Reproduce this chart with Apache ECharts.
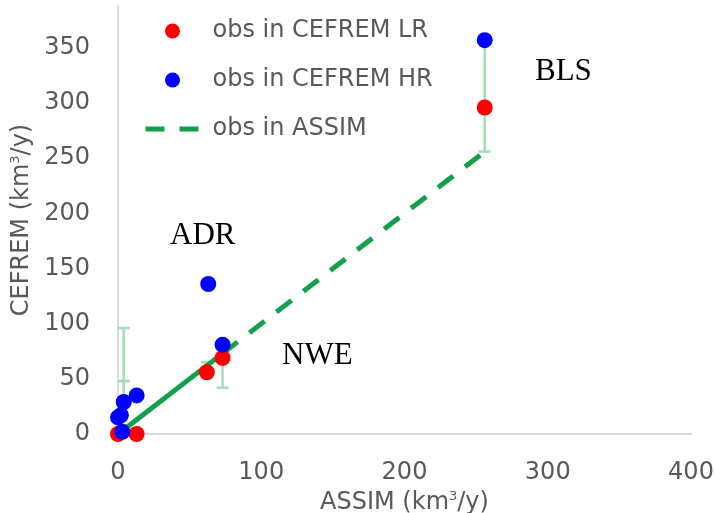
<!DOCTYPE html>
<html>
<head>
<meta charset="utf-8">
<script src="https://cdn.jsdelivr.net/npm/echarts@6/dist/echarts.min.js"></script>
<style>html,body{margin:0;padding:0;background:#fff}#c{width:716px;height:513px}</style>
</head>
<body>
<div id="c"></div>
<script>
// ---- data ----
var xTicks = [0, 100, 200, 300, 400];
var yTicks = [0, 50, 100, 150, 200, 250, 300, 350];
var lrPoints = [[0, 0], [13, 0], [62, 56], [73, 69], [256, 296]];
var hrPoints = [[0, 15], [2, 17], [3, 2], [4, 29], [13, 35], [63, 136], [73, 81], [256, 357]];
var assimSolid = [0, 4, 13, 62, 73];
var assimDashed = [73, 256];
var errX = [4, 4, 62, 73, 256];
var errLow = [29, 48, 56, 42, 256];
var errHigh = [48, 96, 65, 80, 357];
var regionNames = ['BLS', 'ADR', 'NWE'];

var gray = '#595959';
var tickFont = 'DejaVu Sans';
var green = '#13a04a';
var dash = [19, 15];
var errData = errX.map(function (x, i) { return [x, errLow[i], errHigh[i]]; });
var supRich = {sup: {fontSize: 13, color: gray, fontFamily: tickFont, padding: [0, 0, 12, 0]}};

var chart = echarts.init(document.getElementById('c'), null, {renderer: 'canvas'});
chart.setOption({
  animation: false,
  grid: {left: 118, right: 25, top: 6, bottom: 79, containLabel: false, outerBoundsMode: 'none'},
  xAxis: {
    type: 'value', min: xTicks[0], max: xTicks[xTicks.length - 1], interval: 100,
    axisLine: {show: true, lineStyle: {color: '#d9d9d9', width: 2}},
    axisTick: {show: false}, splitLine: {show: false},
    axisLabel: {color: gray, fontFamily: tickFont, fontSize: 24, margin: 27},
    name: 'ASSIM (km{sup|3}/y)', nameLocation: 'middle', nameGap: 54,
    nameTextStyle: {color: gray, fontFamily: tickFont, fontSize: 24, rich: supRich}
  },
  yAxis: {
    type: 'value', min: 0, max: 388, interval: 50,
    axisLine: {show: true, lineStyle: {color: '#d9d9d9', width: 2}},
    axisTick: {show: false}, splitLine: {show: false},
    axisLabel: {color: gray, fontFamily: tickFont, fontSize: 24, margin: 28, showMaxLabel: false,
      formatter: function (v) { return yTicks.indexOf(v) >= 0 ? String(v) : ''; }},
    name: 'CEFREM (km{sup|3}/y)', nameLocation: 'middle', nameGap: 82,
    nameTextStyle: {color: gray, fontFamily: tickFont, fontSize: 24, rich: supRich}
  },
  legend: {
    orient: 'vertical', left: 138, top: 14, itemWidth: 54, itemHeight: 15, itemGap: 25,
    textStyle: {color: gray, fontFamily: tickFont, fontSize: 24, lineHeight: 22, padding: [0, 0, 0, 8]},
    data: [
      {name: 'obs in CEFREM LR', icon: 'circle'},
      {name: 'obs in CEFREM HR', icon: 'circle'},
      {name: 'obs in ASSIM', itemStyle: {opacity: 0}, lineStyle: {type: dash, width: 5, color: green}}
    ]
  },
  series: [
    {
      type: 'custom', name: 'errbars', silent: true, z: 1,
      data: errData,
      renderItem: function (params, api) {
        var x = api.value(0);
        var lo = api.coord([x, api.value(1)]);
        var hi = api.coord([x, api.value(2)]);
        var w = 6;
        var st = {stroke: '#a6dcb8', lineWidth: 2.5};
        return {type: 'group', children: [
          {type: 'line', shape: {x1: lo[0], y1: lo[1], x2: hi[0], y2: hi[1]}, style: st},
          {type: 'line', shape: {x1: lo[0] - w, y1: lo[1], x2: lo[0] + w, y2: lo[1]}, style: st},
          {type: 'line', shape: {x1: hi[0] - w, y1: hi[1], x2: hi[0] + w, y2: hi[1]}, style: st}
        ]};
      }
    },
    {
      type: 'line', name: 'assimSolid', z: 2, symbol: 'none',
      data: assimSolid.map(function (v) { return [v, v]; }),
      lineStyle: {color: green, width: 5, type: 'solid'}
    },
    {
      type: 'line', name: 'obs in ASSIM', z: 2, symbol: 'none',
      data: assimDashed.map(function (v) { return [v, v]; }),
      itemStyle: {color: green},
      lineStyle: {color: green, width: 5, type: dash}
    },
    {
      type: 'scatter', name: 'obs in CEFREM LR', z: 3, symbolSize: 16,
      data: lrPoints, itemStyle: {color: '#ff0000', opacity: 1}
    },
    {
      type: 'scatter', name: 'obs in CEFREM HR', z: 4, symbolSize: 16,
      data: hrPoints, itemStyle: {color: '#0000ff', opacity: 1}
    }
  ],
  graphic: [
    {type: 'text', left: 535, top: 56, style: {text: regionNames[0], font: '31px "Liberation Serif"', fill: '#000'}},
    {type: 'text', left: 170, top: 220, style: {text: regionNames[1], font: '31px "Liberation Serif"', fill: '#000'}},
    {type: 'text', left: 282, top: 340, style: {text: regionNames[2], font: '31px "Liberation Serif"', fill: '#000'}}
  ]
});
</script>
</body>
</html>
